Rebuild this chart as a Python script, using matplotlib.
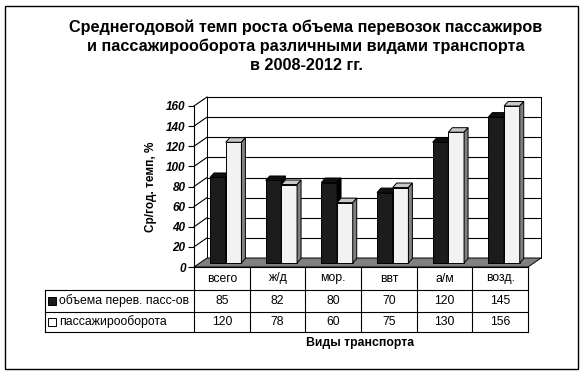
import matplotlib
matplotlib.use("Agg")
import matplotlib.pyplot as plt
from matplotlib.patches import Polygon, Rectangle

plt.rcParams['font.family'] = ['Liberation Sans', 'DejaVu Sans']

categories = ["всего", "ж/д", "мор.", "ввт", "а/м", "возд."]
series_names = ["объема перев. пасс-ов", "пассажирооборота"]
volume = [85, 82, 80, 70, 120, 145]
turnover = [120, 78, 60, 75, 130, 156]
yticks = [0, 20, 40, 60, 80, 100, 120, 140, 160]

title = ("Среднегодовой темп роста объема перевозок пассажиров\n"
         "и пассажирооборота различными видами транспорта\n"
         "в 2008-2012 гг.")

W, H = 585, 375
fig = plt.figure(figsize=(W / 100, H / 100), dpi=100)

# front plane of the chart in pixels
x_left, x_right, y_zero, y_top = 194, 528, 267, 106
ax = fig.add_axes([x_left / W, 1 - y_zero / H, (x_right - x_left) / W, (y_zero - y_top) / H])
n = len(categories)
ax.set_xlim(0, n)
ax.set_ylim(0, 160)

PX = n / (x_right - x_left)      # data units per pixel, x
PY = 160 / (y_zero - y_top)      # data units per pixel, y

# depth of the box
dx, dy = 13 * PX, 9 * PY

def poly(pts, fc, lw=0.7, z=1):
    ax.add_patch(Polygon(pts, closed=True, facecolor=fc, edgecolor='black',
                         lw=lw, zorder=z, clip_on=False))

# back wall
poly([(dx, dy), (n + dx, dy), (n + dx, 160 + dy), (dx, 160 + dy)], 'white', z=0)
for v in yticks[1:]:
    ax.plot([dx, n + dx], [v + dy, v + dy], color='black', lw=0.8, zorder=0.5, clip_on=False)
    ax.plot([0, dx], [v, v + dy], color='black', lw=0.8, zorder=0.5, clip_on=False)
# floor
poly([(0, 0), (n, 0), (n + dx, dy), (dx, dy)], '#808080', z=0.6)

# bars
bw = 15.7 * PX
off_x = 16 * PX
base = 4 * PY
bdx, bdy = 4 * PX, 4.5 * PY
styles = [('#1c1c1c', '#101010', '#000000'), ('#f2f2f2', '#c8c8c8', '#808080')]
for i in range(n):
    for j, vals in enumerate([volume, turnover]):
        front, top, side = styles[j]
        x0 = i + off_x + j * bw
        x1 = x0 + bw
        y1 = base + vals[i]
        z = 2 + i + j * 0.1
        poly([(x0, base), (x1, base), (x1, y1), (x0, y1)], front, z=z)
        poly([(x0, y1), (x1, y1), (x1 + bdx, y1 + bdy), (x0 + bdx, y1 + bdy)], top, z=z)
        poly([(x1, base), (x1 + bdx, base + bdy), (x1 + bdx, y1 + bdy), (x1, y1)], side, z=z)

# axes styling
for s in ['top', 'right', 'bottom']:
    ax.spines[s].set_visible(False)
ax.spines['left'].set_linewidth(0.8)
ax.spines['left'].set_zorder(1)
ax.set_xticks([])
ax.set_yticks(yticks)
ax.tick_params(axis='y', direction='out', length=4, width=0.8, pad=2)
for lab in ax.get_yticklabels():
    lab.set_fontsize(8.5)
    lab.set_fontweight('bold')
    lab.set_fontstyle('italic')
ax.patch.set_visible(False)

ax.text(-43 * PX, 80, "Ср/год. темп, %", rotation=90, ha='center', va='center',
        fontsize=8.5, fontweight='bold')

# data table below the chart
leg_left = (45 - x_left) * PX
rows = [-(290 - y_zero) * PY, -(312 - y_zero) * PY, -(332 - y_zero) * PY]
lk = dict(color='black', lw=0.8, clip_on=False)
ax.plot([0, n], [0, 0], **lk)
for r in rows:
    ax.plot([leg_left, n], [r, r], **lk)
for i in range(n + 1):
    ax.plot([i, i], [0, rows[-1]], **lk)
ax.plot([leg_left, leg_left], [rows[0], rows[-1]], **lk)

tk = dict(ha='center', va='center', fontsize=8.8, clip_on=False)
for i, c in enumerate(categories):
    ax.text(i + 0.5, rows[0] / 2, c, **tk)
    ax.text(i + 0.5, (rows[0] + rows[1]) / 2, str(volume[i]), **tk)
    ax.text(i + 0.5, (rows[1] + rows[2]) / 2, str(turnover[i]), **tk)

key_fc = ['#1c1c1c', 'white']
for k, name in enumerate(series_names):
    yc = (rows[k] + rows[k + 1]) / 2
    ax.add_patch(Rectangle((leg_left + 3 * PX, yc - 4 * PY), 8 * PX, 8 * PY,
                           facecolor=key_fc[k], edgecolor='black', lw=0.7, clip_on=False))
    ax.text(leg_left + 14 * PX, yc, name, ha='left', va='center', fontsize=8.8)

fig.text(360 / W, 1 - 343 / H, "Виды транспорта", ha='center', va='center',
         fontsize=8.8, fontweight='bold')

fig.text(306 / W, 1 - 46 / H, title, ha='center', va='center', multialignment='center',
         fontsize=11.7, fontweight='bold', linespacing=1.32)

# outer frame
fig.patches.append(Rectangle((5 / W, 1 - 369 / H), 573 / W, 363 / H, transform=fig.transFigure,
                             fill=False, edgecolor='black', lw=1.0))

fig.savefig("out.png", dpi=100)
